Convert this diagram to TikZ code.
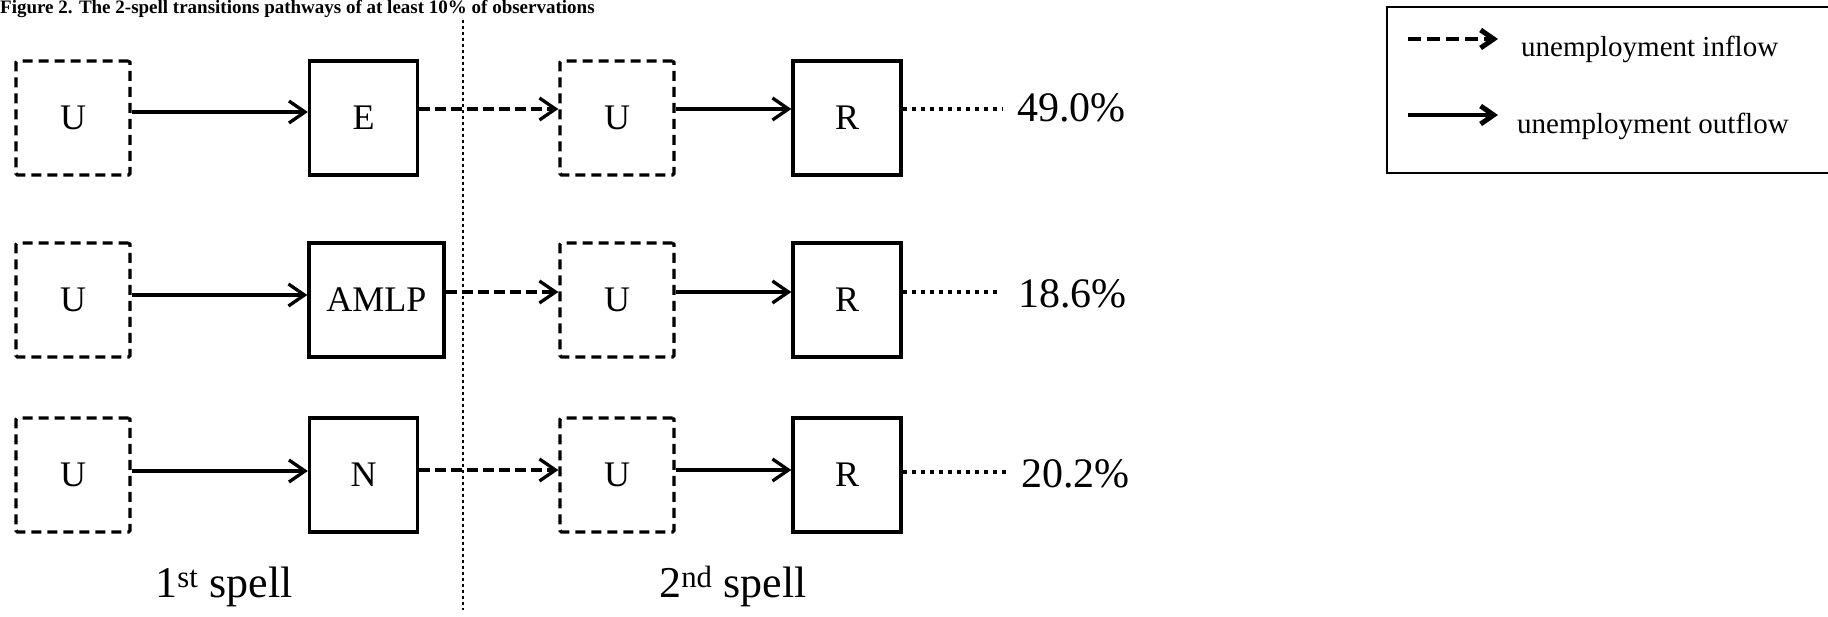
\documentclass[tikz,border=0pt]{standalone}
\usepackage{fontspec}
\setmainfont{Liberation Serif}
\usetikzlibrary{arrows.meta}
\begin{document}
\begin{tikzpicture}[x=1pt,y=-1pt,
  box/.style={draw,line width=3.3pt,minimum width=114pt,minimum height=114pt,inner sep=0pt,font=\fontsize{36}{40}\selectfont},
  ubox/.style={box,dash pattern=on 10pt off 6pt,rounded corners=1.5pt},
  sbox/.style={box,minimum width=108pt},
  outarrow/.style={line width=3.3pt,-{Straight Barb[length=16pt,width=22pt]}},
  inarrow/.style={outarrow,dash pattern=on 11pt off 5pt},
  dotline/.style={line width=3.5pt,dash pattern=on 4.5pt off 4.5pt},
  vline/.style={line width=2.5pt,dash pattern=on 3pt off 3pt},
  pct/.style={anchor=west,inner sep=0pt,font=\fontsize{42}{46}\selectfont},
  spell/.style={anchor=base,inner sep=0pt,font=\fontsize{44}{48}\selectfont},
  legtext/.style={anchor=base west,inner sep=0pt,font=\fontsize{29}{32}\selectfont},
  legout/.style={line width=4.5pt,-{Straight Barb[length=13pt,width=18pt,line width=5pt]}},
  legin/.style={legout,dash pattern=on 13pt off 6pt}
]
\useasboundingbox (0,0) rectangle (1828,617);

% title
\node[anchor=base west,inner sep=0pt,font=\fontsize{19}{23}\selectfont\bfseries] (title) at (0,14)
  {Figure 2. The 2-spell transitions pathways of at least 10\% of observations};

% divider
\coordinate (vtop) at (463,20);
\coordinate (vbot) at (463,610);
\draw[vline] (vtop) -- (vbot);

% row 1
\node[ubox] (U1) at (73,118) {U};
\node[sbox] (E1) at (363.5,118) {E};
\node[ubox] (V1) at (617,118) {U};
\node[sbox] (R1) at (847,118) {R};
\draw[outarrow] ([yshift=6pt]U1.east) -- ([yshift=6pt]E1.west);
\draw[inarrow] ([yshift=9pt]E1.east) -- ([yshift=9pt]V1.west);
\draw[outarrow] ([yshift=9pt]V1.east) -- ([yshift=9pt]R1.west);
\coordinate (d1) at (1003,109);
\draw[dotline] (R1.east |- d1) -- (d1);
\node[pct] (p1) at (1017,108) {49.0\%};

% row 2
\node[ubox] (U2) at (73,300) {U};
\node[sbox,minimum width=135pt] (A2) at (376.5,300) {AMLP};
\node[ubox] (V2) at (617,300) {U};
\node[sbox] (R2) at (847,300) {R};
\draw[outarrow] ([yshift=5pt]U2.east) -- ([yshift=5pt]A2.west);
\draw[inarrow] ([yshift=8pt]A2.east) -- ([yshift=8pt]V2.west);
\draw[outarrow] ([yshift=8pt]V2.east) -- ([yshift=8pt]R2.west);
\coordinate (d2) at (1000,292);
\draw[dotline] (R2.east |- d2) -- (d2);
\node[pct] (p2) at (1018,294) {18.6\%};

% row 3
\node[ubox] (U3) at (73,475) {U};
\node[sbox] (N3) at (363.5,475) {N};
\node[ubox] (V3) at (617,475) {U};
\node[sbox] (R3) at (847,475) {R};
\draw[outarrow] ([yshift=4pt]U3.east) -- ([yshift=4pt]N3.west);
\draw[inarrow] ([yshift=5pt]N3.east) -- ([yshift=5pt]V3.west);
\draw[outarrow] ([yshift=5pt]V3.east) -- ([yshift=5pt]R3.west);
\coordinate (d3) at (1009,472);
\draw[dotline] (R3.east |- d3) -- (d3);
\node[pct] (p3) at (1021,474) {20.2\%};

% spell labels
\node[spell] (s1) at (224,597) {1\textsuperscript{st} spell};
\node[spell] (s2) at (733,597) {2\textsuperscript{nd} spell};

% legend
\node[draw,line width=2pt,minimum width=463pt,minimum height=166pt,inner sep=0pt] (legend) at (1618.5,90) {};
\coordinate (li1) at (1408,39);
\coordinate (li2) at (1498,39);
\draw[legin] (li1) -- (li2);
\node[legtext] (lt1) at (1521,57) {unemployment inflow};
\coordinate (lo1) at (1408,115);
\coordinate (lo2) at (1498,115);
\draw[legout] (lo1) -- (lo2);
\node[legtext] (lt2) at (1517,134) {unemployment outflow};
\end{tikzpicture}
\end{document}
